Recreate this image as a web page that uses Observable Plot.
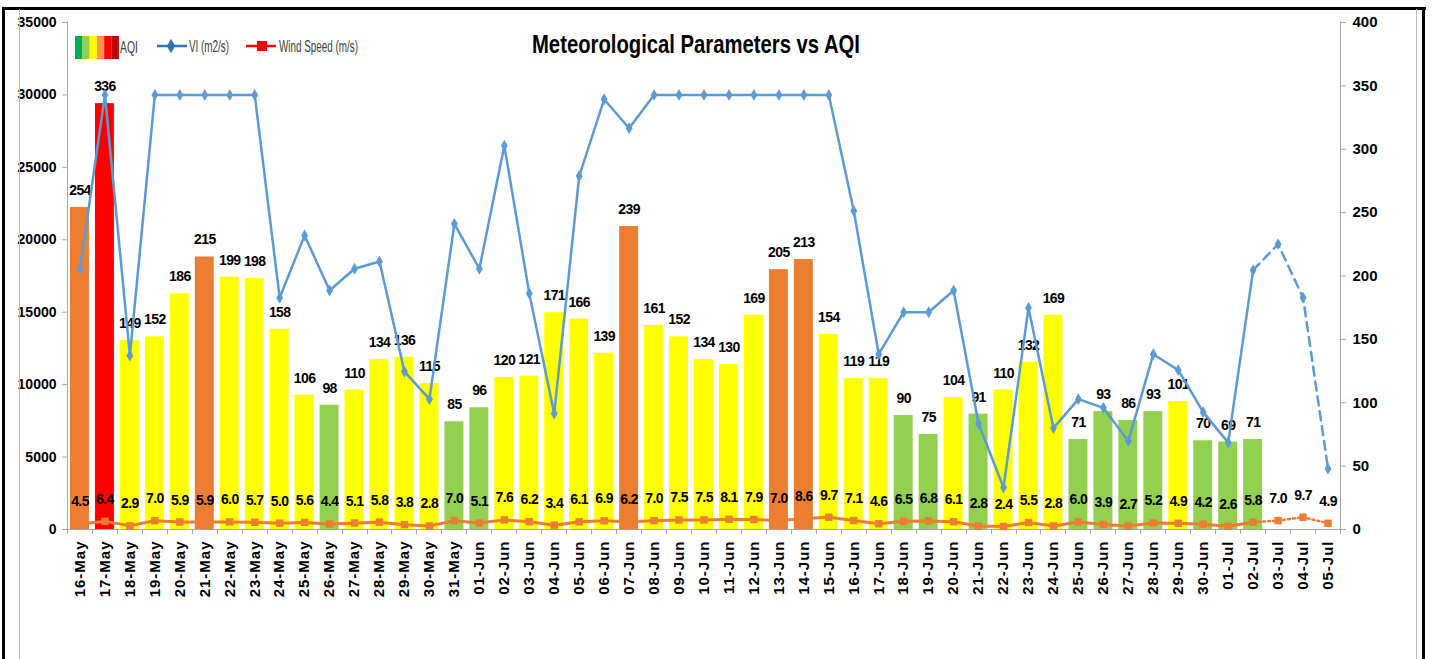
<!DOCTYPE html>
<html><head><meta charset="utf-8">
<script src="https://cdn.jsdelivr.net/npm/d3@7"></script>
<script src="https://cdn.jsdelivr.net/npm/@observablehq/plot@0.6"></script>
<style>
body{margin:0;background:#fff;}
#wrap{position:relative;width:1435px;height:659px;overflow:hidden;background:#fff;}
.bd{position:absolute;}
svg text{font-family:"Liberation Sans Narrow","Arial Narrow","Liberation Sans",Arial,sans-serif;}
</style></head><body><div id="wrap"></div>
<script>
const dates = ["16-May","17-May","18-May","19-May","20-May","21-May","22-May","23-May","24-May","25-May","26-May","27-May","28-May","29-May","30-May","31-May",
"01-Jun","02-Jun","03-Jun","04-Jun","05-Jun","06-Jun","07-Jun","08-Jun","09-Jun","10-Jun","11-Jun","12-Jun","13-Jun","14-Jun","15-Jun","16-Jun","17-Jun","18-Jun","19-Jun","20-Jun","21-Jun","22-Jun","23-Jun","24-Jun","25-Jun","26-Jun","27-Jun","28-Jun","29-Jun","30-Jun",
"01-Jul","02-Jul","03-Jul","04-Jul","05-Jul"];
const aqi = [254,336,149,152,186,215,199,198,158,106,98,110,134,136,115,85,
96,120,121,171,166,139,239,161,152,134,130,169,205,213,154,119,119,90,75,104,91,110,132,169,71,93,86,93,101,70,
69,71,null,null,null];
const vi = [18000,30000,12000,30000,30000,30000,30000,30000,16000,20300,16500,18000,18500,10900,9000,21100,
18000,26500,16300,8000,24400,29700,27700,30000,30000,30000,30000,30000,30000,30000,30000,22000,12100,15000,15000,16500,7300,2900,15300,7000,9000,8400,6100,12100,11000,8100,
6000,17900,19700,16000,4200];
const wind = [4.5,6.4,2.9,7.0,5.9,5.9,6.0,5.7,5.0,5.6,4.4,5.1,5.8,3.8,2.8,7.0,
5.1,7.6,6.2,3.4,6.1,6.9,6.2,7.0,7.5,7.5,8.1,7.9,7.0,8.6,9.7,7.1,4.6,6.5,6.8,6.1,2.8,2.4,5.5,2.8,6.0,3.9,2.7,5.2,4.9,4.2,
2.6,5.8,7.0,9.7,4.9];
const leftTicks = [0,5000,10000,15000,20000,25000,30000,35000];
const rightTicks = [0,50,100,150,200,250,300,350,400];
const lastMeasured = "02-Jul";

const FONT = '"Liberation Sans Narrow","Arial Narrow","Liberation Sans",Arial,sans-serif';
const K = 400 / 35000; // left-axis (VI) to right-axis (AQI) conversion
const aqiColor = v => v > 300 ? "#FF0000" : v > 200 ? "#ED7D31" : v > 100 ? "#FFFF00" : "#92D050";

const rows = dates.map((d, i) => ({date: d, i, aqi: aqi[i], vi: vi[i], wind: wind[i]}));
const cut = dates.indexOf(lastMeasured);
const solid = rows.filter(r => r.i <= cut);
const proj = rows.filter(r => r.i >= cut);
const bars = rows.filter(r => r.aqi != null);

const plot = Plot.plot({
  width: 1435, height: 659,
  marginLeft: 67, marginRight: 95, marginTop: 22, marginBottom: 130,
  style: {background: "transparent", fontFamily: FONT, color: "#000", overflow: "visible"},
  x: {type: "band", domain: dates, paddingInner: 0.24, paddingOuter: 0.12, label: null},
  y: {domain: [0, 400], label: null},
  marks: [
    Plot.barY(bars, {x: "date", y: "aqi", fill: d => aqiColor(d.aqi)}),
    Plot.ruleY([0], {stroke: "#A6A6A6", strokeWidth: 1}),
    Plot.text(bars, {x: "date", y: "aqi", text: d => String(d.aqi), dy: -17, fontWeight: "bold", fontSize: 14, fill: "#000"}),
    Plot.line(solid, {x: "date", y: d => d.vi * K, stroke: "#5B9BD5", strokeWidth: 2.5}),
    Plot.line(proj, {x: "date", y: d => d.vi * K, stroke: "#5B9BD5", strokeWidth: 2.5, strokeDasharray: "9,6"}),
    Plot.dot(rows, {x: "date", y: d => d.vi * K, symbol: "diamond", r: 3.6, fill: "#5B9BD5", stroke: "none"}),
    Plot.line(solid, {x: "date", y: "wind", stroke: "#ED7D31", strokeWidth: 3}),
    Plot.line(proj, {x: "date", y: "wind", stroke: "#ED7D31", strokeWidth: 2.5, strokeDasharray: "2,3"}),
    Plot.dot(rows, {x: "date", y: "wind", symbol: "square", r: 4.2, fill: "#ED7D31", stroke: "none"}),
    Plot.text(rows, {x: "date", y: "wind", text: d => d.wind.toFixed(1), dy: -22, fontWeight: "bold", fontSize: 14, fill: "#000"}),
    Plot.axisY({anchor: "left", ticks: leftTicks.map(v => v * K), tickFormat: v => String(Math.round(v / K)),
      tickSize: 5, tickPadding: 6, stroke: "#A6A6A6", fill: "#000", fontWeight: "bold", fontSize: 14, label: null}),
    Plot.axisY({anchor: "right", ticks: rightTicks, tickFormat: d => String(d),
      tickSize: 5, tickPadding: 7, stroke: "#A6A6A6", fill: "#000", fontWeight: "bold", fontSize: 15, label: null}),
    Plot.axisX({tickRotate: -90, tickSize: 0, tickPadding: 11, fill: "#000", fontWeight: "bold", fontSize: 15, label: null})
  ]
});

const wrap = document.getElementById("wrap");
wrap.appendChild(plot);
const svg = d3.select(plot);
svg.selectAll('g[aria-label="x-axis tick label"] text').style("letter-spacing", "1px");
svg.selectAll('g[aria-label="text"] text').style("letter-spacing", "-0.6px");

// axis lines and category boundary ticks derived from scales
const xs = plot.scale("x"), ys = plot.scale("y");
const [x0, x1] = xs.range, [yb, yt] = ys.range;
const g = svg.append("g").attr("stroke", "#A6A6A6").attr("stroke-width", 1);
g.append("line").attr("x1", x0 + 0.5).attr("x2", x0 + 0.5).attr("y1", yt).attr("y2", yb);
g.append("line").attr("x1", x1 + 0.5).attr("x2", x1 + 0.5).attr("y1", yt).attr("y2", yb);
const step = (x1 - x0) / dates.length;
for (let i = 0; i <= dates.length; i++) {
  const xx = Math.round(x0 + i * step) + 0.5;
  g.append("line").attr("x1", xx).attr("x2", xx).attr("y1", yb).attr("y2", yb + 5);
}

// title
svg.append("text").attr("x", 696).attr("y", 53).attr("text-anchor", "middle")
  .attr("font-size", 25).attr("font-weight", "bold").attr("fill", "#000")
  .attr("textLength", 328).attr("lengthAdjust", "spacingAndGlyphs")
  .text("Meteorological Parameters vs AQI");

// legend
const lg = svg.append("g").attr("text-anchor", "start");
const stripes = ["#00B050", "#92D050", "#FFFF00", "#F79646", "#FF0000", "#C00000"];
stripes.forEach((c, i) => lg.append("rect").attr("x", 75 + i * 7.3).attr("y", 36).attr("width", 7.4).attr("height", 23).attr("fill", c));
lg.append("text").attr("x", 120).attr("y", 53).attr("font-size", 17).attr("fill", "#404040")
  .attr("textLength", 18).attr("lengthAdjust", "spacingAndGlyphs").text("AQI");
lg.append("line").attr("x1", 157).attr("x2", 187).attr("y1", 46).attr("y2", 46).attr("stroke", "#2E75B6").attr("stroke-width", 2.5);
lg.append("path").attr("d", d3.symbol(d3.symbolDiamond, 60)()).attr("transform", "translate(171,46)").attr("fill", "#2E75B6");
lg.append("text").attr("x", 189).attr("y", 52).attr("font-size", 16).attr("fill", "#404040")
  .attr("textLength", 40).attr("lengthAdjust", "spacingAndGlyphs").text("VI (m2/s)");
lg.append("line").attr("x1", 246).attr("x2", 276).attr("y1", 46).attr("y2", 46).attr("stroke", "#FF0000").attr("stroke-width", 2.5);
lg.append("rect").attr("x", 257).attr("y", 41).attr("width", 10).attr("height", 10).attr("fill", "#FF0000");
lg.append("text").attr("x", 279).attr("y", 52).attr("font-size", 16).attr("fill", "#404040")
  .attr("textLength", 79).attr("lengthAdjust", "spacingAndGlyphs").text("Wind Speed (m/s)");

// chart borders
const borders = [
  {l: 2, t: 7, w: 1424, h: 3, c: "#000"},
  {l: 2, t: 7, w: 3, h: 660, c: "#000"},
  {l: 1422, t: 7, w: 3, h: 660, c: "#000"},
  {l: 19, t: 9, w: 1, h: 660, c: "#BFBFBF"},
  {l: 1416, t: 9, w: 1, h: 660, c: "#BFBFBF"}
];
borders.forEach(b => {
  const d = document.createElement("div");
  d.className = "bd";
  Object.assign(d.style, {left: b.l + "px", top: b.t + "px", width: b.w + "px", height: b.h + "px", background: b.c});
  wrap.appendChild(d);
});
</script></body></html>
